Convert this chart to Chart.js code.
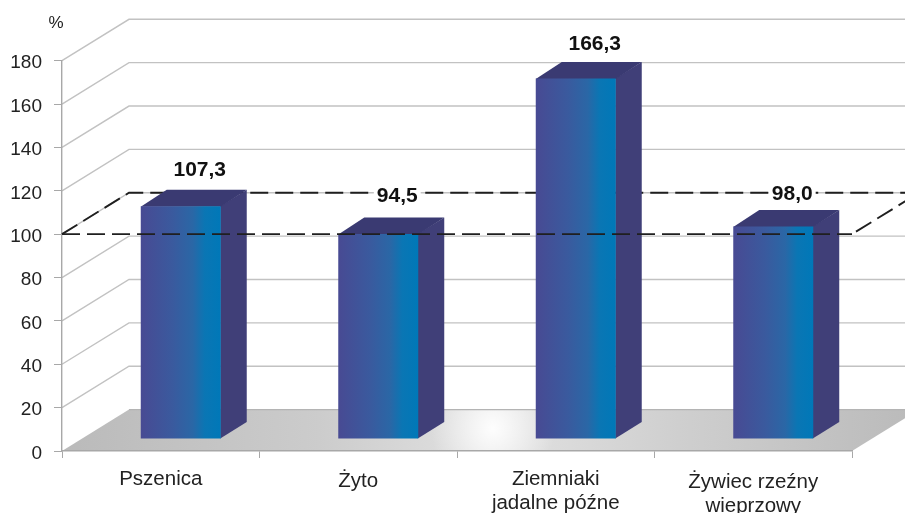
<!DOCTYPE html>
<html><head><meta charset="utf-8">
<style>html,body{margin:0;padding:0;background:#fff}canvas{display:block}</style>
<script src="https://cdn.jsdelivr.net/npm/chart.js@4"></script>
</head><body><canvas id="c" width="905" height="513"></canvas>
<script>
const categories = [["Pszenica"], ["Żyto"], ["Ziemniaki", "jadalne późne"], ["Żywiec rzeźny", "wieprzowy"]];
const values = [107.3, 94.5, 166.3, 98.0];
const valueLabels = ["107,3", "94,5", "166,3", "98,0"];
const yTicks = [0, 20, 40, 60, 80, 100, 120, 140, 160, 180];
const referenceValue = 100;
const unitLabel = "%";

const WALL = {dx: 67, dy: -41.4};      // depth of the whole 3-D box
const BAR_SHIFT = {dx: 20, dy: -12};   // bar front plane inside the box
const BAR_DEPTH = {dx: 26, dy: -16.5}; // depth of a bar
const FONT = '"Liberation Sans", Arial, sans-serif';
const BAR_FRACTION = 0.405;
const LABEL_NUDGE = [1, 0, 3, 5];      // small vertical label corrections
const X_TICK_NUDGE = [0, 2, 0, 3];

function frontGradient(ctx, l, r) {
  const g = ctx.createLinearGradient(l, 0, r, 0);
  g.addColorStop(0, '#484a93');
  g.addColorStop(0.4, '#3a5a9e');
  g.addColorStop(0.65, '#2a67a6');
  g.addColorStop(0.8, '#0a76b4');
  g.addColorStop(1, '#0078b8');
  return g;
}

const box3d = {
  id: 'box3d',
  afterLayout(chart) {
    const {x, y} = chart.scales;
    const yItems = y._computeLabelItems(chart.chartArea);
    yItems.forEach(i => { i.options.translation[1] += 2.5; });
    y._labelItems = yItems;
    const xItems = x._computeLabelItems(chart.chartArea);
    xItems.forEach((i, n) => { i.options.translation[1] += X_TICK_NUDGE[n] || 0; });
    x._labelItems = xItems;
  },
  beforeDraw(chart) {
    const {ctx, chartArea: a, scales: {y}} = chart;
    ctx.save();
    ctx.fillStyle = '#fff';
    ctx.fillRect(0, 0, chart.width, chart.height);
    ctx.lineWidth = 1.4;
    ctx.strokeStyle = '#c2c2c2';
    yTicks.forEach(t => {
      if (t === 0) return;
      const p = y.getPixelForValue(t);
      ctx.beginPath();
      ctx.moveTo(a.left, p);
      ctx.lineTo(a.left + WALL.dx, p + WALL.dy);
      ctx.lineTo(chart.width, p + WALL.dy);
      ctx.stroke();
    });
    const b = a.bottom;
    ctx.beginPath();
    ctx.moveTo(a.left, b);
    ctx.lineTo(a.right, b);
    ctx.lineTo(a.right + WALL.dx, b + WALL.dy);
    ctx.lineTo(a.left + WALL.dx, b + WALL.dy);
    ctx.closePath();
    const f = ctx.createLinearGradient(a.left, 0, a.right + WALL.dx, 0);
    f.addColorStop(0, '#bababa');
    f.addColorStop(0.3, '#cccccc');
    f.addColorStop(0.5, '#e2e2e2');
    f.addColorStop(0.72, '#cfcfcf');
    f.addColorStop(1, '#bababa');
    ctx.fillStyle = f;
    ctx.fill();
    ctx.save();
    ctx.clip();
    const cx = 493, cy = 428;
    const r = ctx.createRadialGradient(cx, cy, 0, cx, cy, 62);
    r.addColorStop(0, 'rgba(255,255,255,0.95)');
    r.addColorStop(1, 'rgba(255,255,255,0)');
    ctx.fillStyle = r;
    ctx.fillRect(cx - 70, cy - 70, 140, 140);
    ctx.restore();
    ctx.strokeStyle = '#b4b4b4';
    ctx.beginPath();
    ctx.moveTo(a.left + WALL.dx, b + WALL.dy);
    ctx.lineTo(chart.width, b + WALL.dy);
    ctx.stroke();
    ctx.fillStyle = '#222';
    ctx.font = '17px ' + FONT;
    ctx.textAlign = 'center';
    ctx.textBaseline = 'middle';
    ctx.fillText(unitLabel, 56, 23);
    ctx.restore();
  },
  beforeDatasetsDraw(chart) {
    const {ctx, chartArea: a, scales: {y}} = chart;
    const p = y.getPixelForValue(referenceValue);
    ctx.save();
    ctx.strokeStyle = '#1f1f1f';
    ctx.lineWidth = 1.9;
    ctx.setLineDash([18, 7]);
    ctx.beginPath();
    ctx.moveTo(a.left, p);
    ctx.lineTo(a.left + WALL.dx, p + WALL.dy);
    ctx.lineTo(chart.width, p + WALL.dy);
    ctx.stroke();
    ctx.beginPath();
    ctx.moveTo(a.right + 4, p - 2.5);
    ctx.lineTo(a.right + WALL.dx, p + WALL.dy);
    ctx.stroke();
    ctx.setLineDash([]);
    chart.getDatasetMeta(0).data.forEach(bar => {
      const l = bar.x - bar.width / 2 + BAR_SHIFT.dx;
      const r = bar.x + bar.width / 2 + BAR_SHIFT.dx;
      const t = bar.y + BAR_SHIFT.dy;
      const bt = bar.base + BAR_SHIFT.dy;
      ctx.fillStyle = '#403f78';
      ctx.beginPath();
      ctx.moveTo(r - 0.5, t);
      ctx.lineTo(r + BAR_DEPTH.dx, t + BAR_DEPTH.dy);
      ctx.lineTo(r + BAR_DEPTH.dx, bt + BAR_DEPTH.dy);
      ctx.lineTo(r - 0.5, bt);
      ctx.closePath();
      ctx.fill();
      ctx.fillStyle = '#3a3a72';
      ctx.beginPath();
      ctx.moveTo(l, t + 0.5);
      ctx.lineTo(l + BAR_DEPTH.dx, t + BAR_DEPTH.dy);
      ctx.lineTo(r + BAR_DEPTH.dx, t + BAR_DEPTH.dy);
      ctx.lineTo(r, t + 0.5);
      ctx.closePath();
      ctx.fill();
    });
    ctx.restore();
    ctx.save();
    ctx.translate(BAR_SHIFT.dx, BAR_SHIFT.dy);
  },
  afterDatasetsDraw(chart) {
    const {ctx, chartArea: a, scales: {y}} = chart;
    ctx.restore();
    const p = y.getPixelForValue(referenceValue);
    ctx.save();
    ctx.strokeStyle = '#1f1f1f';
    ctx.lineWidth = 1.9;
    ctx.setLineDash([18, 7]);
    ctx.beginPath();
    ctx.moveTo(a.left, p);
    ctx.lineTo(a.right, p);
    ctx.stroke();
    ctx.setLineDash([]);
    ctx.font = 'bold 21px ' + FONT;
    ctx.textAlign = 'center';
    ctx.textBaseline = 'middle';
    chart.getDatasetMeta(0).data.forEach((bar, i) => {
      const cx = bar.x + 39;
      const cy = bar.y + BAR_SHIFT.dy + BAR_DEPTH.dy - 21 + LABEL_NUDGE[i];
      const w = ctx.measureText(valueLabels[i]).width;
      ctx.fillStyle = '#fff';
      ctx.fillRect(cx - w / 2 - 3, cy - 10, w + 6, 21);
      ctx.fillStyle = '#111';
      ctx.fillText(valueLabels[i], cx, cy);
    });
    ctx.restore();
  }
};

new Chart(document.getElementById('c'), {
  type: 'bar',
  data: {
    labels: categories,
    datasets: [{
      data: values,
      borderWidth: 0,
      barPercentage: BAR_FRACTION,
      categoryPercentage: 1,
      backgroundColor(c) {
        const xs = c.chart.scales.x;
        if (!xs || !xs.width) return '#2a62a0';
        const w = xs.width / categories.length * BAR_FRACTION;
        const s = xs.getPixelForValue(c.dataIndex) - w / 2;
        return frontGradient(c.chart.ctx, s, s + w);
      }
    }]
  },
  plugins: [box3d],
  options: {
    responsive: false,
    animation: false,
    layout: {padding: {top: 60.7, right: 53, left: 0, bottom: 0}},
    plugins: {legend: {display: false}, tooltip: {enabled: false}, title: {display: false}},
    scales: {
      x: {
        afterFit(s) { s.height = 62; },
        border: {color: '#a8a8a8', width: 1.4},
        grid: {drawOnChartArea: false, color: '#a8a8a8', tickLength: 7},
        ticks: {color: '#222', font: {family: FONT, size: 20.5, lineHeight: 1.17}, padding: 9, maxRotation: 0, autoSkip: false}
      },
      y: {
        min: 0, max: 180,
        afterFit(s) { s.width = 62; },
        afterBuildTicks(s) { s.ticks = yTicks.map(v => ({value: v})); },
        border: {color: '#a8a8a8', width: 1.4},
        grid: {drawOnChartArea: false, color: '#a8a8a8', tickLength: 8},
        ticks: {color: '#222', font: {family: FONT, size: 19}, padding: 12}
      }
    }
  }
});
</script></body></html>
